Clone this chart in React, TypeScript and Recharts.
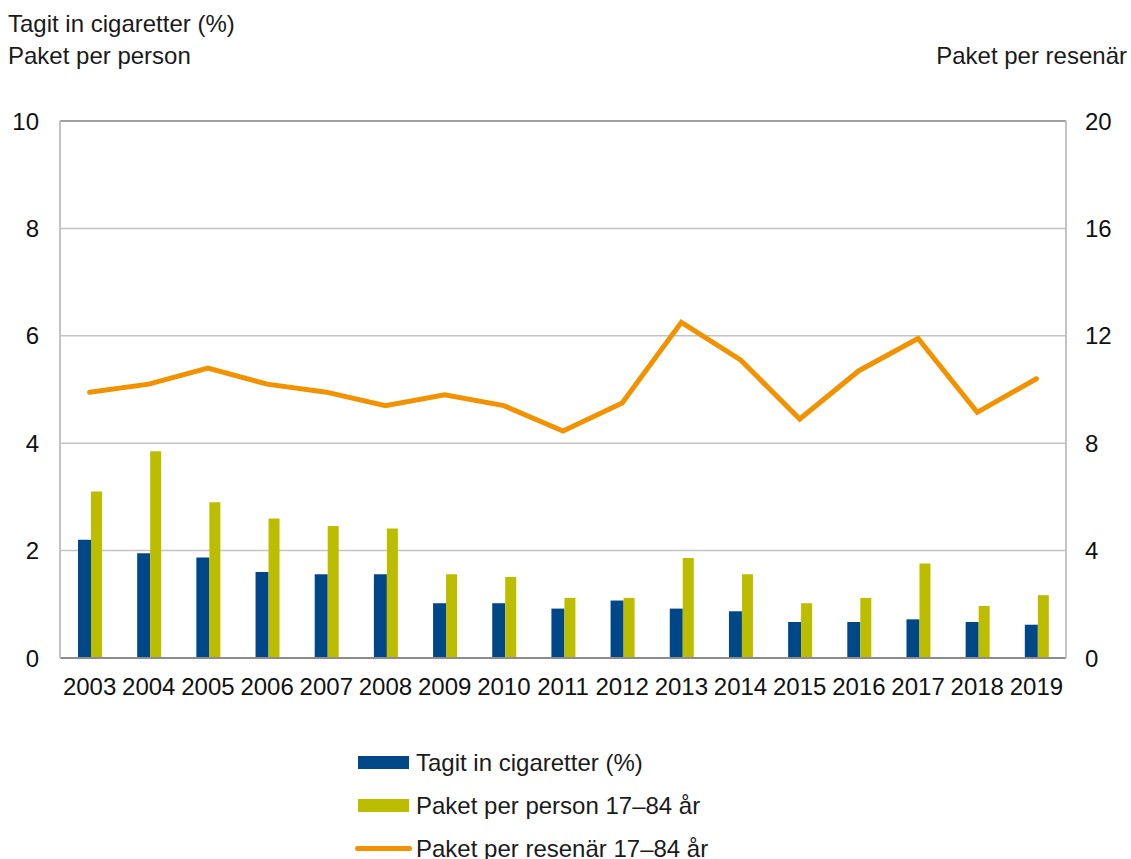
import React from "react";
import {
  ComposedChart,
  Bar,
  Line,
  XAxis,
  YAxis,
  CartesianGrid,
  ReferenceLine,
  Legend,
  Customized,
} from "recharts";

const years = ["2003", "2004", "2005", "2006", "2007", "2008", "2009", "2010", "2011", "2012", "2013", "2014", "2015", "2016", "2017", "2018", "2019"];
const tagitIn = [2.2, 1.95, 1.87, 1.6, 1.56, 1.56, 1.02, 1.02, 0.92, 1.07, 0.92, 0.87, 0.67, 0.67, 0.72, 0.67, 0.62];
const paketPerPerson = [3.1, 3.85, 2.9, 2.6, 2.46, 2.41, 1.56, 1.51, 1.12, 1.12, 1.86, 1.56, 1.02, 1.12, 1.76, 0.97, 1.17];
const paketPerResenar = [9.9, 10.2, 10.8, 10.2, 9.9, 9.4, 9.8, 9.4, 8.45, 9.5, 12.5, 11.1, 8.9, 10.7, 11.9, 9.15, 10.4];
const leftTicks = [0, 2, 4, 6, 8, 10];
const rightTicks = [0, 4, 8, 12, 16, 20];

const FONT = '"Liberation Sans", Arial, sans-serif';
const BLUE = "#004787";
const GREEN = "#bdbd00";
const ORANGE = "#f39200";

const chartData = years.map((y, i) => ({
  year: y,
  tagit: tagitIn[i],
  person: paketPerPerson[i],
  resenar: paketPerResenar[i],
}));

const Titles = () => (
  <g fontFamily={FONT} fontSize={24} fill="#1a1a1a">
    <text x={8} y={32}>Tagit in cigaretter (%)</text>
    <text x={8} y={64}>Paket per person</text>
    <text x={1127} y={64} textAnchor="end">Paket per resenär</text>
  </g>
);

const legendRows = [
  { label: "Tagit in cigaretter (%)", kind: "bar", color: BLUE },
  { label: "Paket per person 17–84 år", kind: "bar", color: GREEN },
  { label: "Paket per resenär 17–84 år", kind: "line", color: ORANGE },
];

const CustomLegend = () => (
  <div style={{ fontFamily: FONT, fontSize: 24, color: "#1a1a1a" }}>
    {legendRows.map((r) => (
      <div key={r.label} style={{ display: "flex", alignItems: "center", height: 43, whiteSpace: "nowrap" }}>
        <div style={{ width: 58, display: "flex", alignItems: "center" }}>
          {r.kind === "bar" ? (
            <div style={{ marginLeft: 4, width: 51, height: 13, background: r.color }} />
          ) : (
            <div style={{ marginLeft: 1, width: 57, height: 5, borderRadius: 3, background: r.color }} />
          )}
        </div>
        <span style={{ marginLeft: 4 }}>{r.label}</span>
      </div>
    ))}
  </div>
);

export default function App() {
  return (
    <div style={{ position: "absolute", left: 0, top: 0, width: 1131, height: 859, background: "#fff" }}>
      <ComposedChart
        width={1131}
        height={859}
        data={chartData}
        margin={{ top: 121, right: 0, left: 0, bottom: 161 }}
        barGap={0}
      >
        <CartesianGrid horizontal={true} vertical={false} stroke="#c3c3c3" strokeWidth={1.5} yAxisId="left" />
        <XAxis
          dataKey="year"
          tickLine={false}
          tickSize={0}
          tickMargin={20}
          height={40}
          axisLine={{ stroke: "#8c8c8c", strokeWidth: 2 }}
          tick={{ fill: "#111", fontSize: 24, fontFamily: FONT }}
          interval={0}
        />
        <YAxis
          yAxisId="left"
          orientation="left"
          domain={[0, 10]}
          ticks={leftTicks}
          width={60}
          tickLine={false}
          tickSize={0}
          tickMargin={21}
          axisLine={{ stroke: "#c3c3c3", strokeWidth: 2 }}
          tick={{ fill: "#111", fontSize: 24, fontFamily: FONT }}
        />
        <YAxis
          yAxisId="right"
          orientation="right"
          domain={[0, 20]}
          ticks={rightTicks}
          width={65}
          tickLine={false}
          tickSize={0}
          tickMargin={19}
          axisLine={{ stroke: "#c3c3c3", strokeWidth: 2 }}
          tick={{ fill: "#111", fontSize: 24, fontFamily: FONT }}
        />
        <ReferenceLine yAxisId="left" y={10} stroke="#a0a0a0" strokeWidth={2} />
        <Bar yAxisId="left" dataKey="tagit" fill={BLUE} barSize={13} isAnimationActive={false} />
        <Bar yAxisId="left" dataKey="person" fill={GREEN} barSize={11} isAnimationActive={false} />
        <Line
          yAxisId="right"
          dataKey="resenar"
          type="linear"
          stroke={ORANGE}
          strokeWidth={5}
          strokeLinecap="round"
          dot={false}
          activeDot={false}
          isAnimationActive={false}
        />
        <Legend
          verticalAlign="middle"
          layout="horizontal"
          content={<CustomLegend />}
          wrapperStyle={{ left: 354, top: 741, width: 420 }}
        />
        <Customized component={<Titles />} />
      </ComposedChart>
    </div>
  );
}
